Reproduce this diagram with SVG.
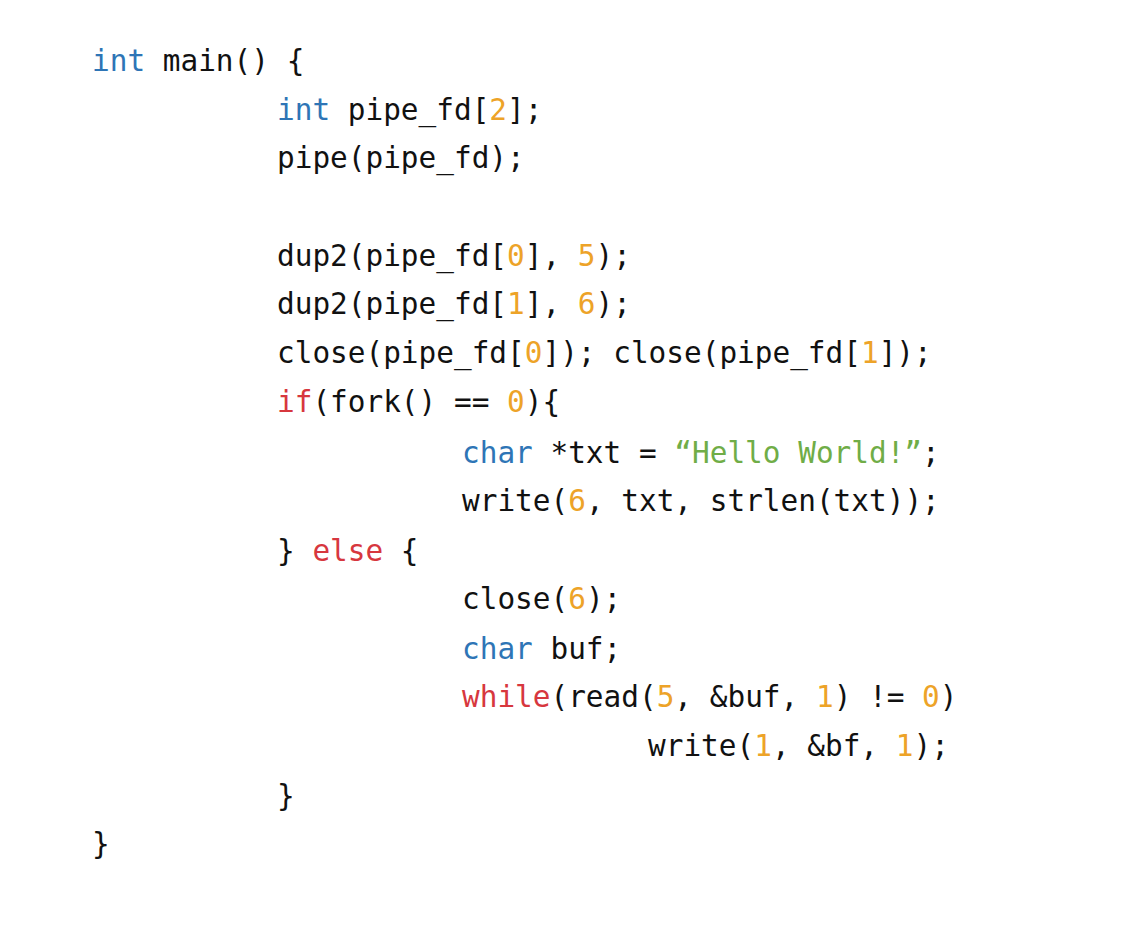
<svg xmlns="http://www.w3.org/2000/svg" width="1140" height="932" viewBox="0 0 1140 932">
<style>
text{font-family:"DejaVu Sans Mono","Liberation Mono",monospace;font-size:29.4px;fill:#111;white-space:pre}
.k{fill:#2e75b6}.n{fill:#eda328}.r{fill:#d7373e}.s{fill:#70ad47}
</style>
<rect width="1140" height="932" fill="#fff"/>
<g id="code">
<text x="92" y="71" xml:space="preserve"><tspan class="k">int</tspan> main() {</text>
<text x="277" y="120" xml:space="preserve"><tspan class="k">int</tspan> pipe_fd[<tspan class="n">2</tspan>];</text>
<text x="277" y="168" xml:space="preserve">pipe(pipe_fd);</text>
<text x="277" y="266" xml:space="preserve">dup2(pipe_fd[<tspan class="n">0</tspan>], <tspan class="n">5</tspan>);</text>
<text x="277" y="314" xml:space="preserve">dup2(pipe_fd[<tspan class="n">1</tspan>], <tspan class="n">6</tspan>);</text>
<text x="277" y="363" xml:space="preserve">close(pipe_fd[<tspan class="n">0</tspan>]); close(pipe_fd[<tspan class="n">1</tspan>]);</text>
<text x="277" y="412" xml:space="preserve"><tspan class="r">if</tspan>(fork() == <tspan class="n">0</tspan>){</text>
<text x="462" y="463" xml:space="preserve"><tspan class="k">char</tspan> *txt = <tspan class="s">“Hello World!”</tspan>;</text>
<text x="462" y="511" xml:space="preserve">write(<tspan class="n">6</tspan>, txt, strlen(txt));</text>
<text x="277" y="561" xml:space="preserve">} <tspan class="r">else</tspan> {</text>
<text x="462" y="609" xml:space="preserve">close(<tspan class="n">6</tspan>);</text>
<text x="462" y="659" xml:space="preserve"><tspan class="k">char</tspan> buf;</text>
<text x="462" y="707" xml:space="preserve"><tspan class="r">while</tspan>(read(<tspan class="n">5</tspan>, &amp;buf, <tspan class="n">1</tspan>) != <tspan class="n">0</tspan>)</text>
<text x="648" y="756" xml:space="preserve">write(<tspan class="n">1</tspan>, &amp;bf, <tspan class="n">1</tspan>);</text>
<text x="277" y="806" xml:space="preserve">}</text>
<text x="92" y="854" xml:space="preserve">}</text>
</g>
</svg>
